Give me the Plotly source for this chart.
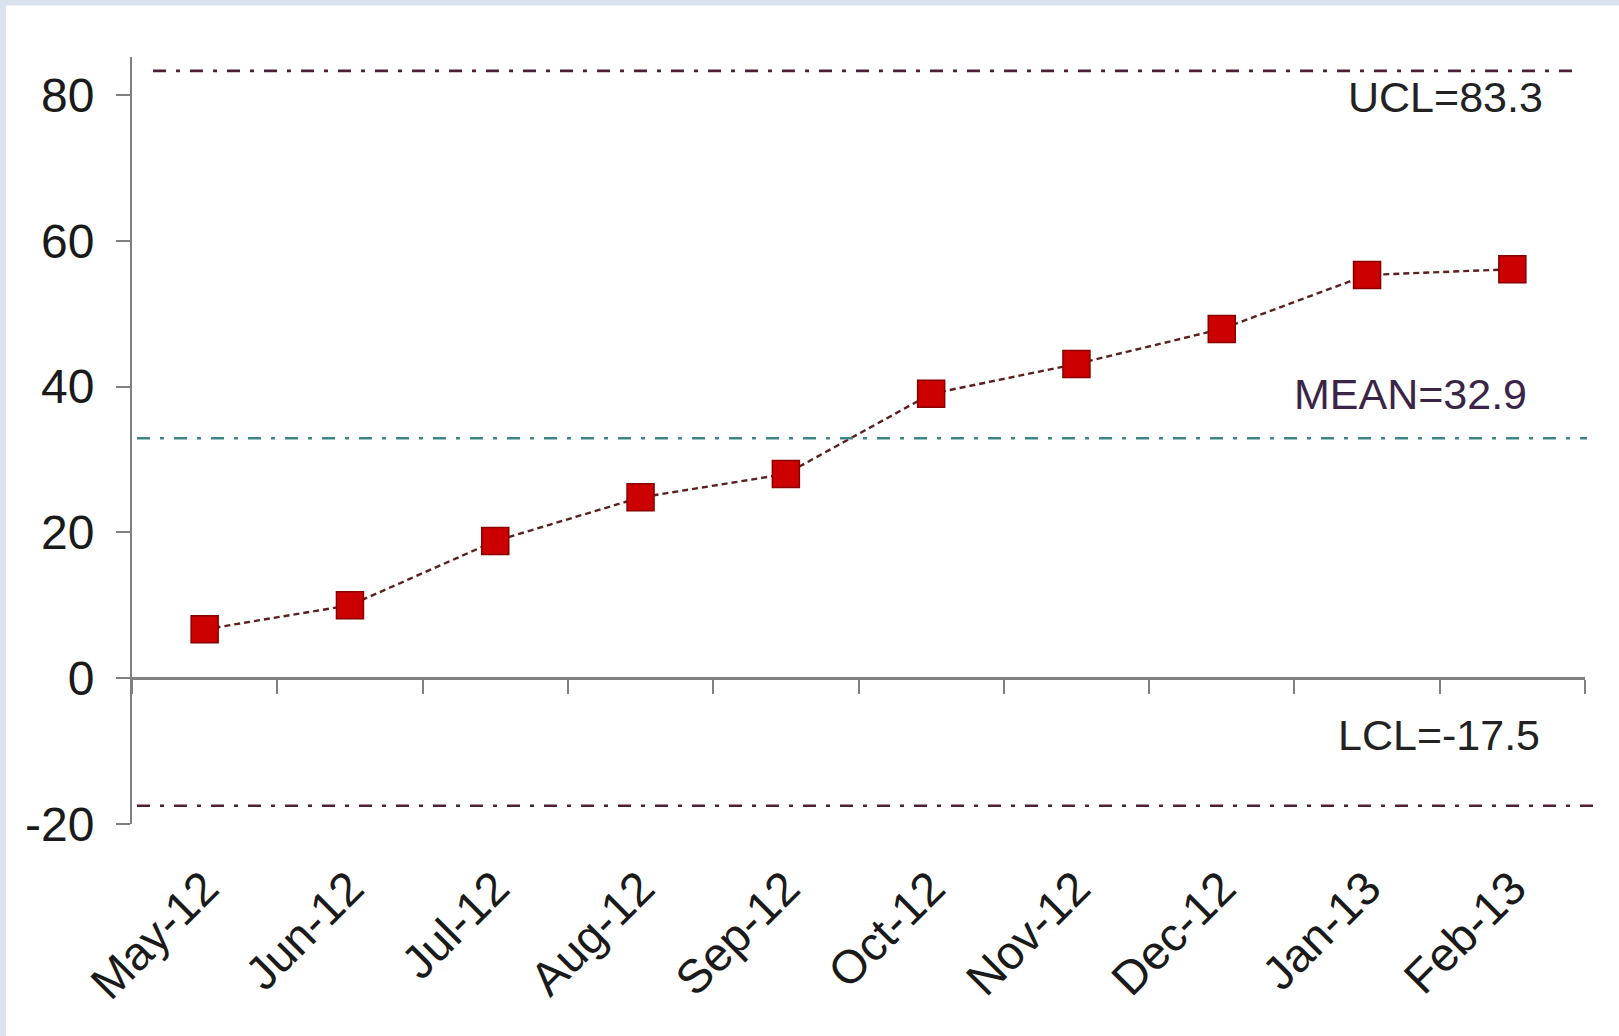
import plotly.graph_objects as go

# Monthly values for the control chart
months = ["May-12", "Jun-12", "Jul-12", "Aug-12", "Sep-12",
          "Oct-12", "Nov-12", "Dec-12", "Jan-13", "Feb-13"]
values = [6.7, 10.0, 18.8, 24.8, 28.0, 39.0, 43.1, 47.9, 55.3, 56.1]

# Control limits
ucl = 83.3
mean = 32.9
lcl = -17.5

y_ticks = [-20, 0, 20, 40, 60, 80]
y_range = [-20, 85.2]

W, H = 1619, 1036
ML, MR, MT, MB = 132, 34, 57, 212
PW, PH = W - ML - MR, H - MT - MB


def px_x(p):
    return (p - ML) / PW


def px_y(p):
    return (H - MB - p) / PH


FONT = "Liberation Sans, Arial, sans-serif"
n = len(months)
idx = list(range(n))

fig = go.Figure()

# data series: dashed connector with red square markers
fig.add_trace(go.Scatter(
    x=months, y=values, mode="lines+markers",
    line=dict(color="#5a2020", width=2.4, dash="6px,4px"),
    marker=dict(symbol="square", size=27, color="#cc0000",
                line=dict(color="#8a0000", width=1.5)),
    showlegend=False, hoverinfo="x+y",
))

# helper trace that carries the zero-line axis with boundary ticks
fig.add_trace(go.Scatter(
    x=idx, y=values, xaxis="x2", mode="markers",
    marker=dict(opacity=0), showlegend=False, hoverinfo="skip",
))

shapes = [
    # light frame around the chart card
    dict(type="rect", xref="paper", yref="paper",
         x0=px_x(-10), x1=px_x(W + 10), y0=px_y(-10), y1=px_y(H + 10),
         fillcolor="#d9e3f0", line=dict(width=0), layer="below"),
    dict(type="rect", xref="paper", yref="paper",
         x0=px_x(6), x1=px_x(W + 10), y0=px_y(5.5), y1=px_y(H + 10),
         fillcolor="white", line=dict(width=0), layer="below"),
    # control lines
    dict(type="line", xref="paper", yref="y", x0=px_x(153), x1=px_x(1575),
         y0=ucl, y1=ucl, line=dict(color="#4e2038", width=2.6,
                                   dash="13px,10px,4px,10px")),
    dict(type="line", xref="paper", yref="y", x0=px_x(137), x1=px_x(1587),
         y0=mean, y1=mean, line=dict(color="#3f8486", width=2.6,
                                     dash="13px,10px,4px,10px")),
    dict(type="line", xref="paper", yref="y", x0=px_x(137), x1=px_x(1598),
         y0=lcl, y1=lcl, line=dict(color="#4e2038", width=2.6,
                                   dash="13px,10px,4px,10px")),
]

annotations = [
    dict(text=f"UCL={ucl}", xref="paper", yref="paper",
         x=px_x(1545), y=px_y(97), xanchor="right", yanchor="middle",
         showarrow=False, font=dict(family=FONT, size=43, color="#222222")),
    dict(text=f"MEAN={mean}", xref="paper", yref="paper",
         x=px_x(1529), y=px_y(394), xanchor="right", yanchor="middle",
         showarrow=False, font=dict(family=FONT, size=43, color="#3a2448")),
    dict(text=f"LCL={lcl}", xref="paper", yref="paper",
         x=px_x(1542), y=px_y(735), xanchor="right", yanchor="middle",
         showarrow=False, font=dict(family=FONT, size=43, color="#222222")),
]

zero_pos = (0 - y_range[0]) / (y_range[1] - y_range[0])

fig.update_layout(
    width=W, height=H,
    margin=dict(l=ML, r=MR, t=MT, b=MB),
    paper_bgcolor="white",
    plot_bgcolor="rgba(0,0,0,0)",
    shapes=shapes,
    annotations=annotations,
    xaxis=dict(
        type="category", categoryorder="array", categoryarray=months,
        range=[-0.5, n - 0.5], showline=False, ticks="", showgrid=False,
        zeroline=False, tickangle=-45, ticklabelstandoff=26,
        tickfont=dict(family=FONT, size=47, color="#1a1a1a"),
    ),
    xaxis2=dict(
        overlaying="x", anchor="free", position=zero_pos, side="bottom",
        range=[-0.5, n - 0.5], tickmode="array",
        tickvals=[i - 0.5 for i in range(n + 1)],
        showticklabels=False, ticks="outside", ticklen=14, tickwidth=2,
        tickcolor="#808080", showline=True, linecolor="#808080",
        linewidth=2.5, showgrid=False, zeroline=False,
    ),
    yaxis=dict(
        range=y_range, tickmode="array", tickvals=y_ticks,
        ticktext=[str(v) for v in y_ticks],
        showline=True, linecolor="#808080", linewidth=2,
        ticks="outside", ticklen=14, tickwidth=2, tickcolor="#808080",
        ticklabelstandoff=12,
        showgrid=False, zeroline=False,
        tickfont=dict(family=FONT, size=48, color="#1a1a1a"),
    ),
)

fig.write_html("out.html")
